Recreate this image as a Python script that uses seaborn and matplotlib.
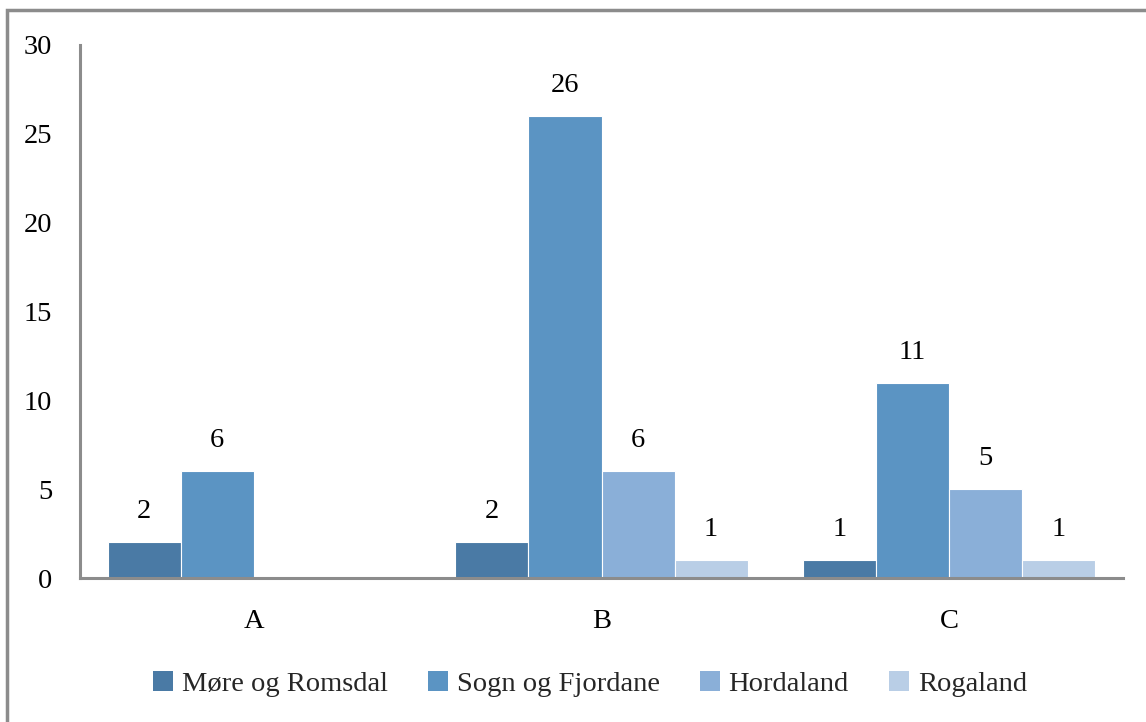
import numpy as np
import pandas as pd
import matplotlib
matplotlib.use("Agg")
import matplotlib.pyplot as plt
import seaborn as sns
from matplotlib.patches import Rectangle, Patch

# Data
categories = ["A", "B", "C"]
regions = ["Møre og Romsdal", "Sogn og Fjordane", "Hordaland", "Rogaland"]
more_romsdal = [2, 2, 1]
sogn_fjordane = [6, 26, 11]
hordaland = [np.nan, 6, 5]
rogaland = [np.nan, 1, 1]
y_ticks = [0, 5, 10, 15, 20, 25, 30]

colors = ["#4A7AA5", "#5B94C3", "#8AAFD8", "#B9CEE6"]

rows = []
for reg, vals in zip(regions, [more_romsdal, sogn_fjordane, hordaland, rogaland]):
    for cat, v in zip(categories, vals):
        rows.append({"category": cat, "region": reg, "value": v})
df = pd.DataFrame(rows)

sns.set_theme(style="white")
plt.rcParams["font.family"] = ["Liberation Serif", "DejaVu Serif"]

FS = 20.5

fig = plt.figure(figsize=(11.46, 7.22), dpi=100)
ax = fig.add_axes([80 / 1146, 144 / 722, (1123 - 80) / 1146, (578 - 45) / 722])

sns.barplot(data=df, x="category", y="value", hue="region", hue_order=regions,
            order=categories, palette=colors, width=0.84, gap=0,
            edgecolor="white", linewidth=0.8, saturation=1, ax=ax, legend=False)

# Value labels above each bar
for container, reg in zip(ax.containers, regions):
    for bar in container:
        h = bar.get_height()
        if np.isnan(h):
            continue
        ax.annotate(f"{int(h)}", (bar.get_x() + bar.get_width() / 2, h),
                    xytext=(0, 13), textcoords="offset points",
                    ha="center", va="bottom", fontsize=FS, color="black")

ax.set_ylim(0, 30)
ax.set_xlim(-0.5, 2.5)
ax.set_yticks(y_ticks)
ax.set_xlabel("")
ax.set_ylabel("")
ax.tick_params(axis="y", length=0, pad=20, labelsize=FS, colors="black")
ax.tick_params(axis="x", length=0, pad=22, labelsize=FS, colors="black")
for s in ["top", "right"]:
    ax.spines[s].set_visible(False)
for s in ["left", "bottom"]:
    ax.spines[s].set_color("#8C8C8C")
    ax.spines[s].set_linewidth(2.2)

handles = [Patch(facecolor=c, edgecolor="none") for c in colors]
fig.legend(handles, regions, loc="center", bbox_to_anchor=(0.515, 38 / 722),
           ncol=4, frameon=False, fontsize=FS, handlelength=0.7, handleheight=0.7,
           handletextpad=0.3, columnspacing=1.42)

# Outer chart border
fig.patches.append(Rectangle((7 / 1146, -0.05), 1.2, (722 - 10) / 722 + 0.05,
                             transform=fig.transFigure, fill=False,
                             edgecolor="#8C8C8C", linewidth=2.5))

fig.savefig("out.png", dpi=100)
